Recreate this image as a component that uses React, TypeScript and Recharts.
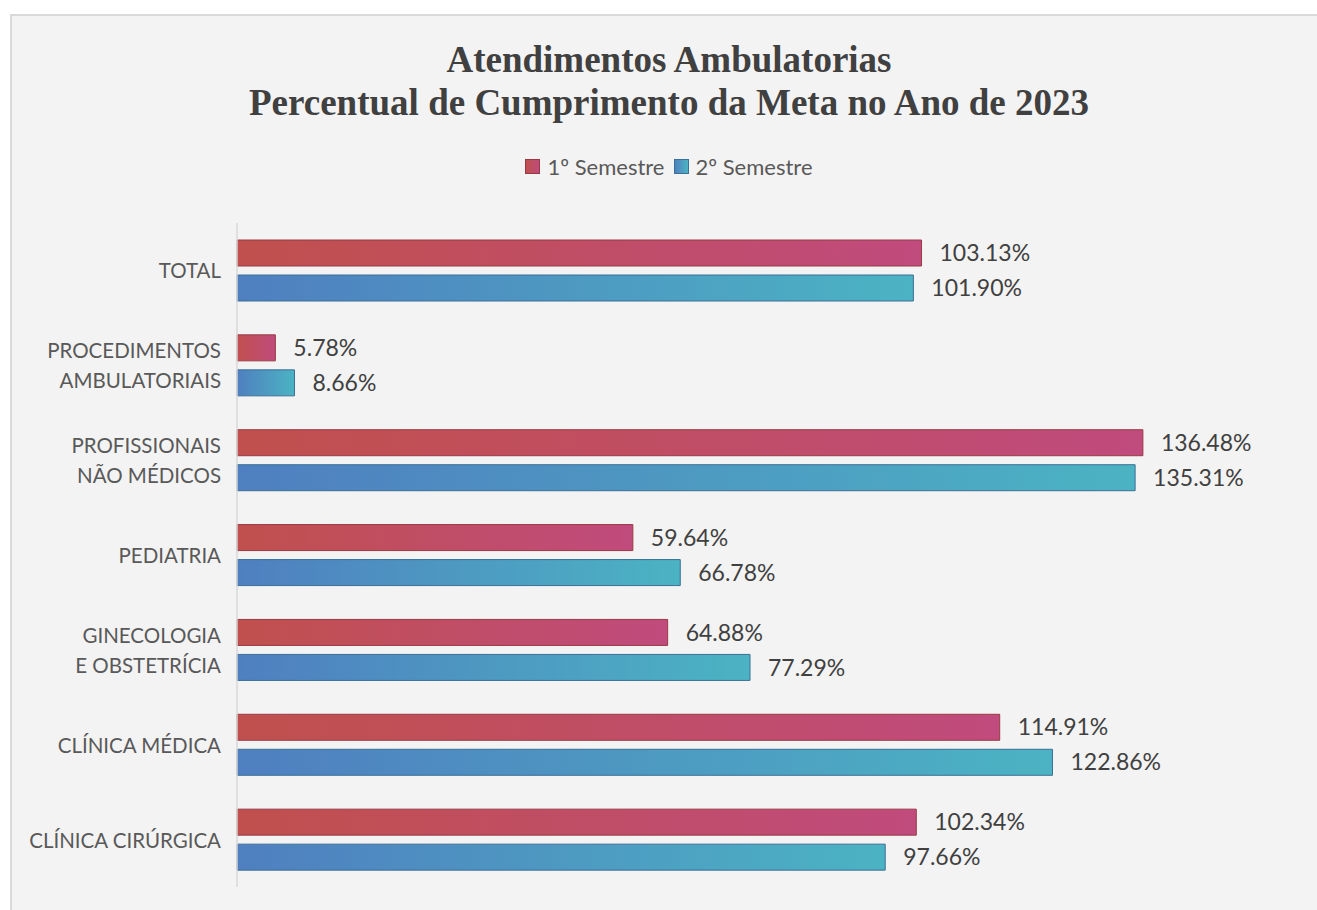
import React from "react";
import { BarChart, Bar, XAxis, YAxis, LabelList, Legend } from "recharts";

const categories = [
  "TOTAL",
  "PROCEDIMENTOS\nAMBULATORIAIS",
  "PROFISSIONAIS\nNÃO MÉDICOS",
  "PEDIATRIA",
  "GINECOLOGIA\nE OBSTETRÍCIA",
  "CLÍNICA MÉDICA",
  "CLÍNICA CIRÚRGICA",
];
const sem1 = [103.13, 5.78, 136.48, 59.64, 64.88, 114.91, 102.34];
const sem2 = [101.9, 8.66, 135.31, 66.78, 77.29, 122.86, 97.66];
const seriesNames = ["1º Semestre", "2º Semestre"];
const titleLines = [
  "Atendimentos Ambulatorias",
  "Percentual de Cumprimento da Meta no Ano de 2023",
];

const data = categories.map((c, i) => ({ name: c, s1: sem1[i], s2: sem2[i] }));

const FONT = "Lato, 'Open Sans', sans-serif";

const YTick = (props: any) => {
  const { x, y, payload } = props;
  const lines = String(payload.value).split("\n");
  const lh = 30;
  const start = y - ((lines.length - 1) * lh) / 2;
  return (
    <g>
      {lines.map((l: string, i: number) => (
        <text
          key={i}
          x={x - 8}
          y={start + i * lh}
          textAnchor="end"
          dominantBaseline="central"
          fontFamily={FONT}
          fontSize={20.5}
          fill="#595959"
        >
          {l}
        </text>
      ))}
    </g>
  );
};

const fmt = (v: any) => `${Number(v).toFixed(2)}%`;

const LegendContent = () => (
  <div
    style={{
      display: "flex",
      justifyContent: "center",
      alignItems: "center",
      gap: 9,
      fontFamily: FONT,
      fontSize: 22,
      color: "#595959",
      height: 24,
    }}
  >
    {seriesNames.map((n, i) => (
      <div key={n} style={{ display: "flex", alignItems: "center" }}>
        <div
          style={{
            width: 15,
            height: 15,
            marginRight: 7,
            boxSizing: "border-box",
            background:
              i === 0
                ? "linear-gradient(90deg,#c0504d,#c04b7d)"
                : "linear-gradient(90deg,#4f81c0,#4bb3c3)",
            border: i === 0 ? "1px solid #983a46" : "1px solid #3b6f96",
          }}
        />
        <span>{n}</span>
      </div>
    ))}
  </div>
);

export default function App() {
  return (
    <div
      style={{
        position: "absolute",
        left: 0,
        top: 0,
        width: 1317,
        height: 910,
        background: "#ffffff",
        overflow: "hidden",
      }}
    >
      <div
        style={{
          position: "absolute",
          left: 10,
          top: 14,
          width: 1400,
          height: 1000,
          background: "#f3f3f3",
          border: "2px solid #d9d9d9",
          boxSizing: "border-box",
        }}
      />
      <div
        style={{
          position: "absolute",
          left: 0,
          top: 38,
          width: 1338,
          textAlign: "center",
          fontFamily: "'Liberation Serif', 'Times New Roman', serif",
          fontWeight: "bold",
          fontSize: 37,
          lineHeight: "43px",
          color: "#404040",
        }}
      >
        {titleLines.map((t) => (
          <div key={t}>{t}</div>
        ))}
      </div>
      <div style={{ position: "absolute", left: 0, top: 0 }}>
        <BarChart
          width={1317}
          height={910}
          layout="vertical"
          data={data}
          margin={{ top: 199, right: 18, bottom: 23, left: 0 }}
          barGap={9}
          barSize={26}
        >
          <defs>
            <linearGradient id="gRed" x1="0" y1="0" x2="1" y2="0">
              <stop offset="0%" stopColor="#c0504d" />
              <stop offset="100%" stopColor="#c04b7d" />
            </linearGradient>
            <linearGradient id="gBlue" x1="0" y1="0" x2="1" y2="0">
              <stop offset="0%" stopColor="#4f7fc0" />
              <stop offset="100%" stopColor="#4bb3c3" />
            </linearGradient>
          </defs>
          <XAxis type="number" domain={[0, 160]} hide />
          <YAxis
            type="category"
            dataKey="name"
            width={237}
            tick={<YTick />}
            tickLine={false}
            axisLine={{ stroke: "#d9d9d9", strokeWidth: 1.5 }}
            interval={0}
          />
          <Legend
            verticalAlign="top"
            content={<LegendContent />}
            wrapperStyle={{ top: 154, left: 0, width: 1338 }}
          />
          <Bar
            dataKey="s1"
            name={seriesNames[0]}
            fill="url(#gRed)"
            stroke="#983a46"
            strokeWidth={1}
            isAnimationActive={false}
          >
            <LabelList
              dataKey="s1"
              position="right"
              offset={18}
              formatter={fmt}
              fill="#404040"
              fontSize={23}
              fontFamily={FONT}
            />
          </Bar>
          <Bar
            dataKey="s2"
            name={seriesNames[1]}
            fill="url(#gBlue)"
            stroke="#3b6f96"
            strokeWidth={1}
            isAnimationActive={false}
          >
            <LabelList
              dataKey="s2"
              position="right"
              offset={18}
              formatter={fmt}
              fill="#404040"
              fontSize={23}
              fontFamily={FONT}
            />
          </Bar>
        </BarChart>
      </div>
    </div>
  );
}
